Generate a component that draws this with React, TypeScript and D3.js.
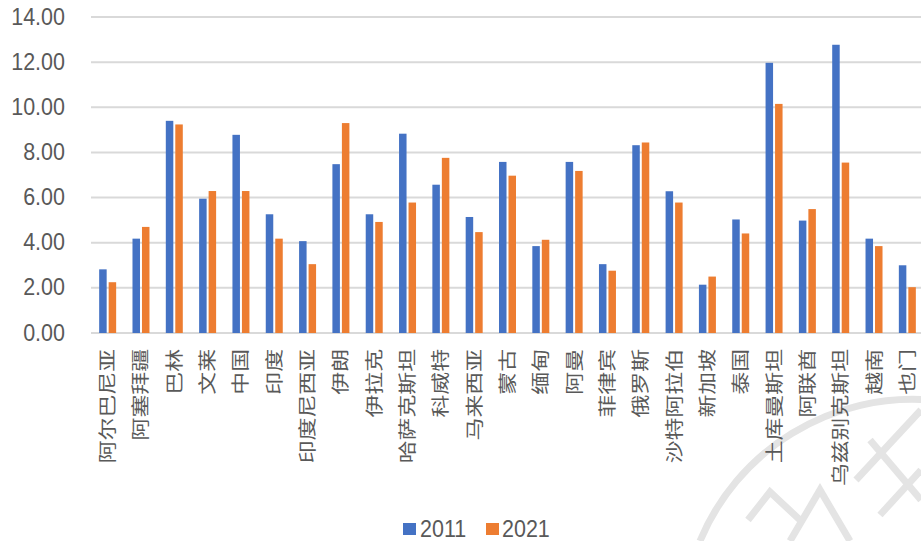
import React, { useEffect, useRef } from 'react';
import * as d3 from 'd3';

const countries = [
  '阿尔巴尼亚', '阿塞拜疆', '巴林', '文莱', '中国', '印度', '印度尼西亚', '伊朗', '伊拉克',
  '哈萨克斯坦', '科威特', '马来西亚', '蒙古', '缅甸', '阿曼', '菲律宾', '俄罗斯', '沙特阿拉伯',
  '新加坡', '泰国', '土库曼斯坦', '阿联酋', '乌兹别克斯坦', '越南', '也门',
];
const values2011 = [
  2.82, 4.18, 9.4, 5.95, 8.78, 5.26, 4.07, 7.48, 5.26, 8.83, 6.57, 5.14, 7.58,
  3.85, 7.58, 3.05, 8.32, 6.28, 2.14, 5.03, 11.97, 4.98, 12.77, 4.18, 3.0,
];
const values2021 = [
  2.25, 4.7, 9.24, 6.29, 6.29, 4.18, 3.05, 9.3, 4.92, 5.78, 7.76, 4.47, 6.97,
  4.13, 7.18, 2.76, 8.44, 5.78, 2.5, 4.41, 10.15, 5.49, 7.55, 3.85, 2.03,
];
const seriesNames = ['2011', '2021'];
const yTicks = [0, 2, 4, 6, 8, 10, 12, 14];

const COLORS: Record<string, string> = { '2011': '#4472C4', '2021': '#ED7D31' };
const W = 921;
const H = 541;

export default function App() {
  const svgRef = useRef<SVGSVGElement>(null);

  useEffect(() => {
    if (!svgRef.current) return;
    const svg = d3.select(svgRef.current);
    svg.selectAll('*').remove();

    const left = 91;
    const right = 924; // plot runs a touch past the picture edge

    const x0 = d3.scaleBand<string>()
      .domain(countries)
      .range([left, right])
      .paddingInner(0.49)
      .paddingOuter(0.245);
    const x1 = d3.scaleBand<string>()
      .domain(seriesNames)
      .range([0, x0.bandwidth()])
      .paddingInner(0.21);
    const y = d3.scaleLinear().domain([0, 14]).range([333, 17]);

    // watermark (faint)
    const wm = svg.append('g').attr('fill', 'none').attr('stroke', '#e4e4e4').attr('stroke-width', 7);
    wm.append('path').attr('d', 'M 700 541 A 230 230 0 0 1 930 400');
    wm.append('path').attr('d', 'M 790 541 L 820 490 L 850 541');
    wm.append('path').attr('d', 'M 748 520 L 770 492 L 800 520');
    wm.append('path').attr('d', 'M 856 480 L 921 410');
    wm.append('path').attr('d', 'M 880 515 L 921 470');
    wm.append('path').attr('d', 'M 870 440 L 921 500');

    // gridlines
    svg.append('g')
      .selectAll('line')
      .data(yTicks)
      .enter().append('line')
      .attr('x1', left)
      .attr('x2', W)
      .attr('y1', d => y(d))
      .attr('y2', d => y(d))
      .attr('stroke', '#d9d9d9')
      .attr('stroke-width', 2);

    // y tick labels
    svg.append('g')
      .selectAll('text')
      .data(yTicks)
      .enter().append('text')
      .attr('transform', d => `translate(65, ${y(d) + 7.5}) scale(1, 1.15)`)
      .attr('text-anchor', 'end')
      .attr('fill', '#595959')
      .attr('font-family', 'Liberation Sans, Arial, sans-serif')
      .attr('font-size', 21.5)
      .text(d => d.toFixed(2));

    // bars
    const rows = countries.map((c, i) => ({ c, vals: [values2011[i], values2021[i]] }));
    const groups = svg.append('g')
      .selectAll('g')
      .data(rows)
      .enter().append('g')
      .attr('transform', d => `translate(${x0(d.c)}, 0)`);
    groups.selectAll('rect')
      .data(d => d.vals.map((v, k) => ({ key: seriesNames[k], v })))
      .enter().append('rect')
      .attr('x', d => x1(d.key)!)
      .attr('width', x1.bandwidth())
      .attr('y', d => y(d.v))
      .attr('height', d => y(0) - y(d.v))
      .attr('fill', d => COLORS[d.key]);

    // category labels, rotated
    svg.append('g')
      .selectAll('text')
      .data(countries)
      .enter().append('text')
      .attr('transform', d => `translate(${x0(d)! + x0.bandwidth() / 2 + 6.5}, 349) rotate(-90) scale(1.27, 1)`)
      .attr('text-anchor', 'end')
      .attr('fill', '#595959')
      .attr('font-family', 'Noto Sans CJK SC, sans-serif')
      .attr('font-size', 18)
      .text(d => d);

    // legend
    const legend = svg.append('g');
    const items = [
      { key: '2011', sx: 403, tx: 420 },
      { key: '2021', sx: 486, tx: 502 },
    ];
    items.forEach(it => {
      legend.append('rect')
        .attr('x', it.sx).attr('y', 523)
        .attr('width', 13).attr('height', 12)
        .attr('fill', COLORS[it.key]);
      legend.append('text')
        .attr('transform', `translate(${it.tx}, 536.5) scale(1, 1.15)`)
        .attr('fill', '#595959')
        .attr('font-family', 'Liberation Sans, Arial, sans-serif')
        .attr('font-size', 21.5)
        .text(it.key);
    });
  }, []);

  return (
    <div style={{ position: 'absolute', left: 0, top: 0, width: W, height: H, background: '#fff' }}>
      <svg ref={svgRef} width={W} height={H} style={{ display: 'block' }} />
    </div>
  );
}
